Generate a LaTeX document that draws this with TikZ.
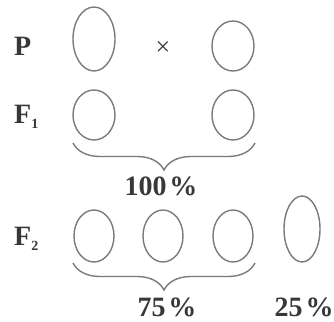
\documentclass[tikz,border=0pt]{standalone}
\usepackage{fontspec}
\setmainfont{Liberation Serif}
\usetikzlibrary{decorations.pathreplacing}
\definecolor{ink}{HTML}{383838}
\definecolor{ring}{HTML}{7A7A7A}
\newcommand{\subidx}[1]{\raisebox{-5pt}{\fontsize{14}{14}\selectfont #1}}
\begin{document}
\begin{tikzpicture}[x=1pt,y=-1pt,
  lab/.style={text=ink,font=\fontsize{28}{30}\selectfont\bfseries,inner sep=0pt,anchor=base west},
  pct/.style={text=ink,font=\fontsize{28}{30}\selectfont\bfseries,inner sep=0pt,anchor=base},
  cellline/.style={draw=ring,line width=1.4pt},
  brc/.style={draw=ring,line width=1.4pt,decorate,decoration={brace,amplitude=27pt}}]
\useasboundingbox (0,0) rectangle (334,321);
% P row
\node[lab] (p) at (14,56) {P};
\draw[cellline] (94,39) ellipse [x radius=21, y radius=32];
\node[text=ink,font=\fontsize{26}{26}\selectfont,inner sep=0pt] (x) at (163,49) {×};
\draw[cellline] (233,46) ellipse [x radius=21, y radius=25];
% F1 row
\node[lab] (f1) at (14,123) {F\subidx{1}};
\draw[cellline] (94,115) ellipse [x radius=21, y radius=25];
\draw[cellline] (233,115) ellipse [x radius=21, y radius=25];
\coordinate (b1a) at (73,143);
\coordinate (b1b) at (255,143);
\draw[brc] (b1b) -- (b1a);
\node[pct] (h) at (161,195) {100\kern3pt\%};
% F2 row
\node[lab] (f2) at (14,245) {F\subidx{2}};
\draw[cellline] (94,236) ellipse [x radius=20, y radius=26];
\draw[cellline] (163,236) ellipse [x radius=20, y radius=26];
\draw[cellline] (233,236) ellipse [x radius=20, y radius=26];
\draw[cellline] (302,229) ellipse [x radius=18, y radius=33];
\coordinate (b2a) at (73,263);
\coordinate (b2b) at (255,263);
\draw[brc] (b2b) -- (b2a);
\node[pct] (s) at (167,316) {75\kern3pt\%};
\node[pct] (t) at (304,316) {25\kern3pt\%};
\end{tikzpicture}
\end{document}
